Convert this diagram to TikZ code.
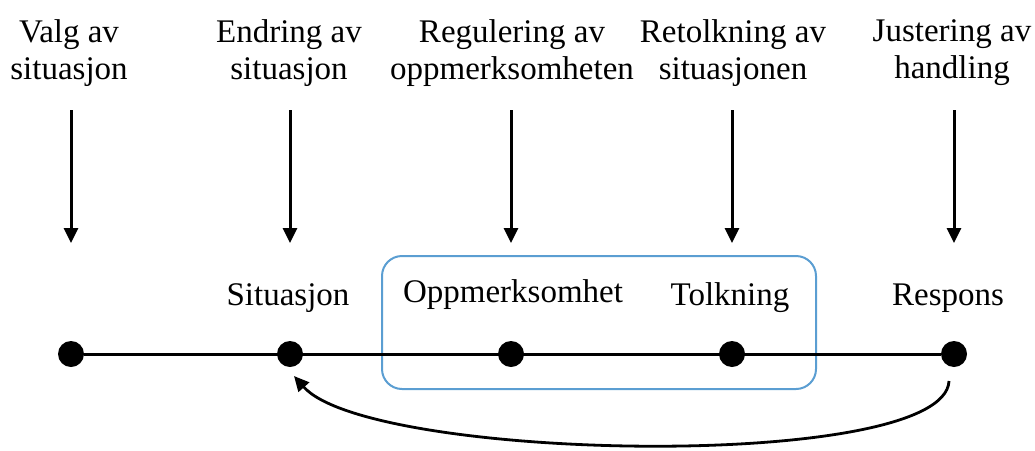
\documentclass[tikz,border=0pt]{standalone}
\usepackage{fontspec}
\setmainfont{Liberation Serif}
\usetikzlibrary{arrows.meta}
\definecolor{boxblue}{RGB}{91,158,210}
\begin{document}
\begin{tikzpicture}[x=1pt,y=-1pt,
  lbl/.style={font=\fontsize{33}{37}\selectfont, inner sep=0pt},
  toplbl/.style={lbl, align=center, anchor=north},
  dot/.style={circle, fill=black, inner sep=0pt, minimum size=26pt},
  axis/.style={line width=3pt},
  down/.style={line width=3pt, -{Triangle[length=15pt,width=14pt]}},
  back/.style={line width=2.8pt, -{Triangle[length=15pt,width=14pt]}},
  frame/.style={draw=boxblue, line width=2pt, rounded corners=20pt, inner sep=0pt}]
\useasboundingbox (0,0) rectangle (1035,450);

% grouping frame around attention and interpretation
\node[frame, minimum width=434pt, minimum height=133pt] (grp) at (599,322.5) {};

% stages along the process line
\node[dot] (d1) at (71,354) {};
\node[dot] (d2) at (290,354) {};
\node[dot] (d3) at (511,354) {};
\node[dot] (d4) at (732,354) {};
\node[dot] (d5) at (954,354) {};
\draw[axis] (d1) -- (d5);

% stage labels
\node[lbl, anchor=base] (l2) at (288,305) {Situasjon};
\node[lbl, anchor=base] (l3) at (513,302) {Oppmerksomhet};
\node[lbl, anchor=base] (l4) at (730,305) {Tolkning};
\node[lbl, anchor=base] (l5) at (948,305) {Respons};

% regulation strategies
\node[toplbl] (t1) at (69,19) {Valg av\\situasjon};
\node[toplbl] (t2) at (289,19) {Endring av\\situasjon};
\node[toplbl] (t3) at (512,19) {Regulering av\\oppmerksomheten};
\node[toplbl] (t4) at (733,19) {Retolkning av\\situasjonen};
\node[toplbl] (t5) at (952,19) {Justering av\\handling};

\foreach \i/\x in {1/71,2/290,3/511,4/732,5/954}{
  \coordinate (s\i) at (\x,110);
  \coordinate (e\i) at (\x,243);
  \draw[down] (s\i) -- (e\i);
}

% feedback from response back to situation
\coordinate (fb0) at (949,381);
\coordinate (fb1) at (294,376);
\draw[back] (fb0) .. controls (945,472) and (370,462) .. (fb1);
\end{tikzpicture}
\end{document}
